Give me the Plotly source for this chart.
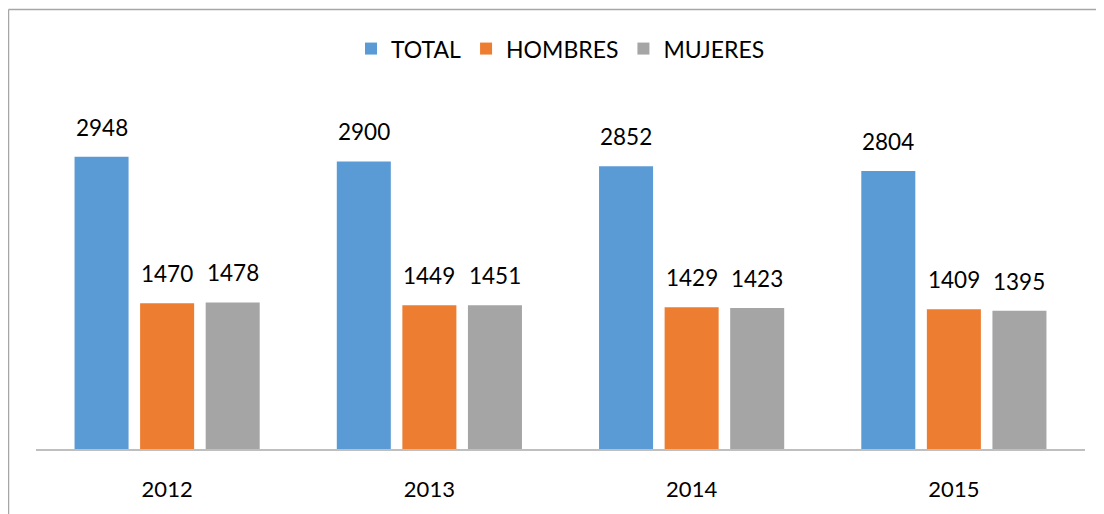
import plotly.graph_objects as go

years = ["2012", "2013", "2014", "2015"]
total = [2948, 2900, 2852, 2804]
hombres = [1470, 1449, 1429, 1409]
mujeres = [1478, 1451, 1423, 1395]

series = [("TOTAL", total, "#5b9bd5"), ("HOMBRES", hombres, "#ed7d31"), ("MUJERES", mujeres, "#a5a5a5")]

FONT = "Lato"
W, H = 1096, 506
L, R, T, B = 28, 19, 94, 61
PW, PH = W - L - R, H - T - B

fig = go.Figure()
for name, vals, col in series:
    fig.add_trace(go.Bar(x=years, y=vals, name=name, marker=dict(color=col, line=dict(width=0))))

# value labels above bars (x given as category index)
slot = 65.5
for i, (name, vals, col) in enumerate(series):
    for j, v in enumerate(vals):
        fig.add_annotation(x=j, y=v, text=str(v), showarrow=False, xref="x", yref="y",
                           xshift=(i - 1) * slot, yshift=14, yanchor="bottom",
                           font=dict(family=FONT, size=22.5, color="#000"))

bx = (0.5 - L) / PW
by = (H - B - 0.5) / PH
fig.update_layout(
    width=W, height=H,
    margin=dict(l=L, r=R, t=T, b=B),
    paper_bgcolor="white", plot_bgcolor="white",
    barmode="group", bargap=0.25, bargroupgap=0.176,
    font=dict(family=FONT, size=22, color="#000"),
    showlegend=True,
    legend=dict(orientation="h", x=0.5, xanchor="center", y=(H - B - 40) / PH, yanchor="middle",
                font=dict(family=FONT, size=23, color="#000"), itemwidth=30,
                bgcolor="rgba(0,0,0,0)"),
    xaxis=dict(type="category", range=[-0.5, len(years) - 0.5], showline=True, linecolor="#bfbfbf",
               linewidth=1.5, showgrid=False, ticks="", ticklabelstandoff=20,
               tickfont=dict(family=FONT, size=22, color="#000"), fixedrange=True),
    yaxis=dict(range=[0, 3500], visible=False, showgrid=False, zeroline=False),
    shapes=[
        dict(type="line", xref="paper", yref="paper", x0=bx, x1=1.05,
             y0=by, y1=by, line=dict(color="#a6a6a6", width=1.5)),
        dict(type="line", xref="paper", yref="paper", x0=bx, x1=bx,
             y0=by, y1=-0.3, line=dict(color="#a6a6a6", width=1.5)),
    ],
)

fig.write_html("out.html")
